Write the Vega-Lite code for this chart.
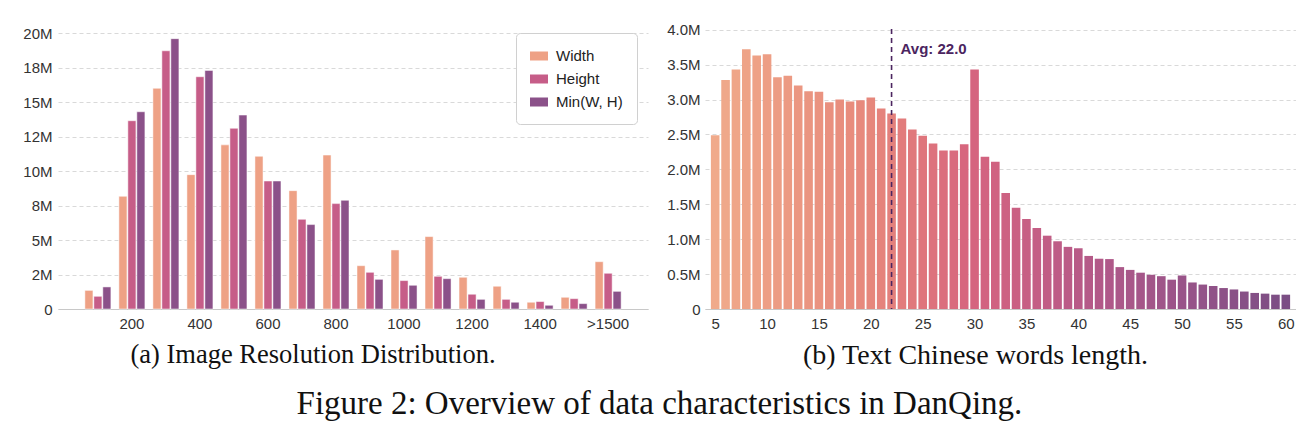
{
  "$schema": "https://vega.github.io/schema/vega-lite/v6.json",
  "background": "white",
  "padding": {"left": 22, "top": 22, "right": 0, "bottom": 0},
  "bounds": "flush",
  "spacing": 57,
  "config": {
    "view": {"stroke": null},
    "font": "Liberation Sans",
    "axis": {
      "labelFont": "Liberation Sans",
      "labelFontSize": 15,
      "labelColor": "#333333",
      "labelOverlap": false,
      "ticks": false,
      "title": null,
      "gridColor": "#cfcfcf",
      "gridDash": [4, 3],
      "gridWidth": 0.8,
      "domainColor": "#c8c8c8"
    },
    "axisY": {"domain": false, "grid": true, "labelPadding": 6},
    "axisX": {"grid": false, "labelPadding": 7, "labelAngle": 0},
    "title": {"font": "Liberation Serif", "fontWeight": "normal", "color": "#111111"}
  },
  "title": {
    "text": "Figure 2: Overview of data characteristics in DanQing.",
    "orient": "bottom",
    "anchor": "middle",
    "fontSize": 33,
    "offset": 18
  },
  "hconcat": [
    {
      "width": 590,
      "height": 280,
      "title": {
        "text": "(a) Image Resolution Distribution.",
        "orient": "bottom",
        "fontSize": 26.5,
        "dx": -40,
        "offset": 11
      },
      "data": {
        "values": [
          {"res": "100", "dim": "Width", "count": 1350000},
          {"res": "100", "dim": "Height", "count": 920000},
          {"res": "100", "dim": "Min(W, H)", "count": 1600000},
          {"res": "200", "dim": "Width", "count": 8170000},
          {"res": "200", "dim": "Height", "count": 13650000},
          {"res": "200", "dim": "Min(W, H)", "count": 14300000},
          {"res": "300", "dim": "Width", "count": 16000000},
          {"res": "300", "dim": "Height", "count": 18720000},
          {"res": "300", "dim": "Min(W, H)", "count": 19600000},
          {"res": "400", "dim": "Width", "count": 9740000},
          {"res": "400", "dim": "Height", "count": 16840000},
          {"res": "400", "dim": "Min(W, H)", "count": 17300000},
          {"res": "500", "dim": "Width", "count": 11900000},
          {"res": "500", "dim": "Height", "count": 13100000},
          {"res": "500", "dim": "Min(W, H)", "count": 14060000},
          {"res": "600", "dim": "Width", "count": 11070000},
          {"res": "600", "dim": "Height", "count": 9280000},
          {"res": "600", "dim": "Min(W, H)", "count": 9280000},
          {"res": "700", "dim": "Width", "count": 8580000},
          {"res": "700", "dim": "Height", "count": 6500000},
          {"res": "700", "dim": "Min(W, H)", "count": 6120000},
          {"res": "800", "dim": "Width", "count": 11160000},
          {"res": "800", "dim": "Height", "count": 7640000},
          {"res": "800", "dim": "Min(W, H)", "count": 7880000},
          {"res": "900", "dim": "Width", "count": 3140000},
          {"res": "900", "dim": "Height", "count": 2660000},
          {"res": "900", "dim": "Min(W, H)", "count": 2150000},
          {"res": "1000", "dim": "Width", "count": 4280000},
          {"res": "1000", "dim": "Height", "count": 2060000},
          {"res": "1000", "dim": "Min(W, H)", "count": 1720000},
          {"res": "1100", "dim": "Width", "count": 5250000},
          {"res": "1100", "dim": "Height", "count": 2370000},
          {"res": "1100", "dim": "Min(W, H)", "count": 2200000},
          {"res": "1200", "dim": "Width", "count": 2300000},
          {"res": "1200", "dim": "Height", "count": 1070000},
          {"res": "1200", "dim": "Min(W, H)", "count": 700000},
          {"res": "1300", "dim": "Width", "count": 1650000},
          {"res": "1300", "dim": "Height", "count": 700000},
          {"res": "1300", "dim": "Min(W, H)", "count": 490000},
          {"res": "1400", "dim": "Width", "count": 490000},
          {"res": "1400", "dim": "Height", "count": 540000},
          {"res": "1400", "dim": "Min(W, H)", "count": 270000},
          {"res": "1500", "dim": "Width", "count": 850000},
          {"res": "1500", "dim": "Height", "count": 750000},
          {"res": "1500", "dim": "Min(W, H)", "count": 390000},
          {"res": ">1500", "dim": "Width", "count": 3430000},
          {"res": ">1500", "dim": "Height", "count": 2590000},
          {"res": ">1500", "dim": "Min(W, H)", "count": 1280000}
        ]
      },
      "mark": {"type": "bar", "stroke": "white", "strokeWidth": 0.5},
      "encoding": {
        "x": {
          "field": "res",
          "type": "nominal",
          "sort": null,
          "scale": {"paddingInner": 0.235, "paddingOuter": 0.79},
          "axis": {"values": ["200", "400", "600", "800", "1000", "1200", "1400", ">1500"]}
        },
        "xOffset": {
          "field": "dim",
          "type": "nominal",
          "sort": ["Width", "Height", "Min(W, H)"],
          "scale": {"paddingInner": 0.1}
        },
        "y": {
          "field": "count",
          "type": "quantitative",
          "scale": {"domain": [0, 20300000], "nice": false},
          "axis": {
            "values": [0, 2500000, 5000000, 7500000, 10000000, 12500000, 15000000, 17500000, 20000000],
            "labelOverlap": false,
            "labelExpr": "datum.value == 0 ? '0' : datum.value == 2500000 ? '2M' : datum.value == 7500000 ? '8M' : datum.value == 12500000 ? '12M' : datum.value == 17500000 ? '18M' : format(datum.value / 1000000, 'd') + 'M'"
          }
        },
        "color": {
          "field": "dim",
          "type": "nominal",
          "sort": ["Width", "Height", "Min(W, H)"],
          "scale": {
            "domain": ["Width", "Height", "Min(W, H)"],
            "range": ["#EEA185", "#C65D88", "#8B5189"]
          },
          "legend": {
            "title": null,
            "orient": "none",
            "legendX": 458,
            "legendY": 4,
            "fillColor": "white",
            "strokeColor": "#d0d0d0",
            "cornerRadius": 4,
            "padding": 14,
            "symbolType": "M-1,-0.5H1V0.5H-1Z",
            "symbolSize": 324,
            "symbolStrokeWidth": 0,
            "symbolOpacity": 1,
            "labelFont": "Liberation Sans",
            "labelFontSize": 15,
            "labelColor": "#222222",
            "labelOffset": 8,
            "rowPadding": 6
          }
        }
      }
    },
    {
      "width": 591,
      "height": 280,
      "title": {
        "text": "(b) Text Chinese words length.",
        "orient": "bottom",
        "fontSize": 28,
        "dx": -25,
        "offset": 11
      },
      "resolve": {"axis": {"y": "independent"}},
      "layer": [
        {
          "data": {
            "values": [
              {"len": 5, "count": 2490000},
              {"len": 6, "count": 3280000},
              {"len": 7, "count": 3430000},
              {"len": 8, "count": 3720000},
              {"len": 9, "count": 3630000},
              {"len": 10, "count": 3650000},
              {"len": 11, "count": 3320000},
              {"len": 12, "count": 3340000},
              {"len": 13, "count": 3200000},
              {"len": 14, "count": 3120000},
              {"len": 15, "count": 3110000},
              {"len": 16, "count": 2960000},
              {"len": 17, "count": 3000000},
              {"len": 18, "count": 2970000},
              {"len": 19, "count": 2990000},
              {"len": 20, "count": 3030000},
              {"len": 21, "count": 2870000},
              {"len": 22, "count": 2800000},
              {"len": 23, "count": 2730000},
              {"len": 24, "count": 2570000},
              {"len": 25, "count": 2480000},
              {"len": 26, "count": 2370000},
              {"len": 27, "count": 2270000},
              {"len": 28, "count": 2270000},
              {"len": 29, "count": 2360000},
              {"len": 30, "count": 3430000},
              {"len": 31, "count": 2180000},
              {"len": 32, "count": 2110000},
              {"len": 33, "count": 1660000},
              {"len": 34, "count": 1450000},
              {"len": 35, "count": 1290000},
              {"len": 36, "count": 1160000},
              {"len": 37, "count": 1050000},
              {"len": 38, "count": 970000},
              {"len": 39, "count": 890000},
              {"len": 40, "count": 870000},
              {"len": 41, "count": 760000},
              {"len": 42, "count": 720000},
              {"len": 43, "count": 715000},
              {"len": 44, "count": 600000},
              {"len": 45, "count": 560000},
              {"len": 46, "count": 520000},
              {"len": 47, "count": 490000},
              {"len": 48, "count": 470000},
              {"len": 49, "count": 420000},
              {"len": 50, "count": 480000},
              {"len": 51, "count": 380000},
              {"len": 52, "count": 350000},
              {"len": 53, "count": 330000},
              {"len": 54, "count": 300000},
              {"len": 55, "count": 280000},
              {"len": 56, "count": 250000},
              {"len": 57, "count": 230000},
              {"len": 58, "count": 220000},
              {"len": 59, "count": 205000},
              {"len": 60, "count": 205000}
            ]
          },
          "mark": {"type": "bar", "width": 8.6},
          "encoding": {
            "x": {
              "field": "len",
              "type": "quantitative",
              "scale": {"domain": [4.5, 60.5], "nice": false, "zero": false},
              "axis": {"values": [5, 10, 15, 20, 25, 30, 35, 40, 45, 50, 55, 60], "labelOverlap": false}
            },
            "y": {
              "field": "count",
              "type": "quantitative",
              "scale": {"domain": [0, 4010000], "nice": false},
              "axis": {
                "values": [0, 500000, 1000000, 1500000, 2000000, 2500000, 3000000, 3500000, 4000000],
                "labelOverlap": false,
                "labelPadding": 5,
                "labelExpr": "datum.value == 0 ? '0' : format(datum.value / 1000000, '.1f') + 'M'"
              }
            },
            "color": {
              "field": "len",
              "type": "quantitative",
              "legend": null,
              "scale": {
                "domain": [5, 20, 30, 45, 60],
                "range": ["#F0AA8B", "#E6877C", "#D5647F", "#A85789", "#7B4E84"]
              }
            }
          }
        },
        {
          "data": {"values": [{"avg": 22, "label": "Avg: 22.0"}]},
          "mark": {"type": "rule", "strokeDash": [5, 4], "strokeWidth": 1.6, "color": "#4B2560"},
          "encoding": {"x": {"field": "avg", "type": "quantitative"}}
        },
        {
          "data": {"values": [{"avg": 22, "label": "Avg: 22.0"}]},
          "mark": {
            "type": "text",
            "align": "left",
            "baseline": "middle",
            "dx": 9,
            "font": "Liberation Sans",
            "fontWeight": "bold",
            "fontSize": 15,
            "color": "#4B2560"
          },
          "encoding": {
            "x": {"field": "avg", "type": "quantitative"},
            "y": {"datum": 3730000, "type": "quantitative", "axis": null},
            "text": {"field": "label"}
          }
        }
      ]
    }
  ]
}
